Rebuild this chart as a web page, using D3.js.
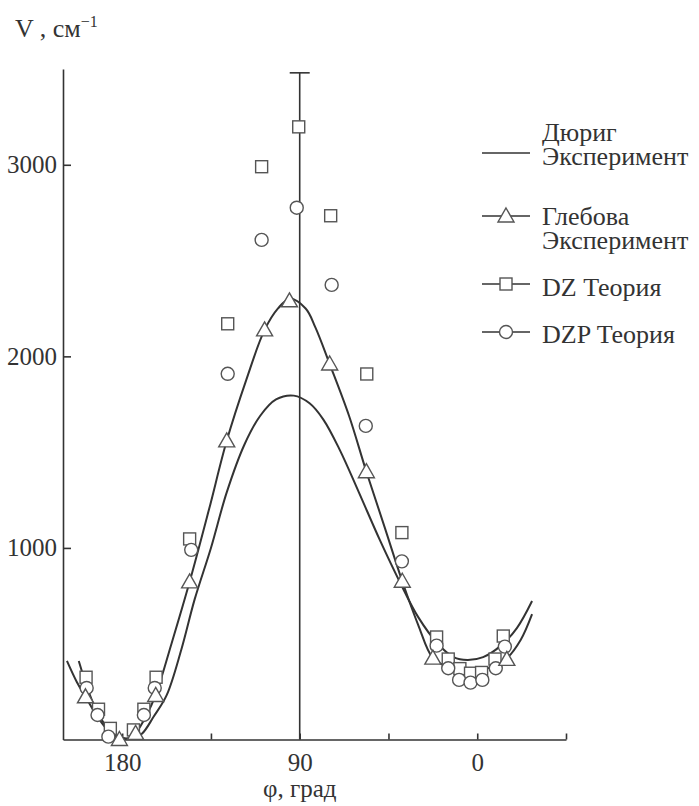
<!DOCTYPE html>
<html>
<head>
<meta charset="utf-8">
<script src="https://cdn.jsdelivr.net/npm/d3@7"></script>
<style>
  body { margin: 0; background: #fff; }
</style>
</head>
<body>
<div id="chart"></div>
<script>
// angle phi (deg) and V (cm^-1)
var durigDeg = [202, 197, 192, 186, 180, 175, 170, 164, 157.5, 150, 143.3, 135, 127, 118, 110, 102, 93, 85, 78, 69.7, 60, 49.4, 39, 30, 20, 12, 5, -3, -12, -20, -27.8];
var durigV   = [410, 250, 130, 45, 10, 5, 30, 120, 230, 470, 730, 1000, 1290, 1540, 1690, 1775, 1795, 1755, 1670, 1512, 1290, 1042, 817, 640, 500, 430, 415, 430, 490, 580, 723];

var glebCurveDeg = [208, 203, 198.6, 192, 186, 181, 176, 173, 168, 163, 155, 145.8, 136, 127, 117, 107.8, 101, 95.2, 87, 82, 74.8, 65, 56.2, 47, 38, 30, 22.5, 15, 5, -5, -15, -22, -27.8];
var glebCurveV   = [410, 300, 223, 110, 35, 5, 10, 35, 120, 233, 500, 823, 1200, 1559, 1880, 2138, 2250, 2300, 2250, 2150, 1960, 1690, 1398, 1110, 826, 600, 425, 380, 360, 370, 425, 520, 655];

var glebDeg = [198.6, 181.4, 173.2, 163, 145.8, 127, 107.8, 95.2, 74.8, 56.2, 38, 22.5, -15];
var glebV   = [223, 0, 32, 230, 823, 1559, 2138, 2290, 1960, 1398, 826, 425, 418];

var dzDeg = [198.3, 192, 186, 174.3, 169, 162.8, 145.8, 126.5, 109.3, 90.5, 74.3, 56, 38.2, 20.6, 14.7, 8.8, 3.4, -2.2, -9, -13.2];
var dzV   = [325, 158, 58, 50, 158, 325, 1047, 2170, 2990, 3198, 2734, 1908, 1080, 535, 420, 370, 346, 350, 420, 540];

var dzpDeg = [198, 192.5, 187, 169, 163.5, 145, 126.5, 109.3, 91.5, 73.8, 56.5, 38.2, 20.6, 14.7, 9.2, 3.4, -2.6, -9.4, -14];
var dzpV   = [269, 128, 15, 128, 269, 990, 1909, 2608, 2776, 2373, 1637, 930, 490, 372, 311, 297, 311, 372, 485];

var xTicks = [180, 135, 90, 45, 0, -45];
var xLabels = [180, 90, 0];
var yTicks = [1000, 2000, 3000];

var legendNames = [["Дюриг", "Эксперимент"], ["Глебова", "Эксперимент"], ["DZ Теория"], ["DZP Теория"]];
var legendKinds = ["none", "triangle", "square", "circle"];

var width = 699, height = 806;
var ink = "#333";
var serif = "'Liberation Serif'";

var svg = d3.select("#chart").append("svg")
    .attr("width", width)
    .attr("height", height);

var x = d3.scaleLinear().domain([210, -45]).range([63, 566]);
var y = d3.scaleLinear().domain([0, 3500]).range([739.5, 69]);

// axes, ticks point inward
var xAxis = d3.axisBottom(x)
    .tickValues(xTicks)
    .tickSizeInner(-6)
    .tickSizeOuter(0)
    .tickPadding(14)
    .tickFormat(function(d) { return xLabels.indexOf(d) >= 0 ? d : ""; });

var gx = svg.append("g")
    .attr("transform", "translate(0," + y(0) + ")")
    .call(xAxis);

var yAxis = d3.axisLeft(y)
    .tickValues(yTicks)
    .tickSizeInner(-8)
    .tickSizeOuter(0)
    .tickPadding(6)
    .tickFormat(d3.format("d"));

var gy = svg.append("g")
    .attr("transform", "translate(" + x(210) + ",0)")
    .call(yAxis);

[gx, gy].forEach(function(g) {
    g.attr("font-family", null).attr("font-size", null);
    g.select(".domain").attr("stroke", ink).attr("stroke-width", 1.6);
    g.selectAll(".tick line").attr("stroke", ink).attr("stroke-width", 1.6);
    g.selectAll(".tick text")
        .style("font-family", serif)
        .style("font-size", "25px")
        .attr("fill", ink);
});

// vertical line at 90 with a cap
svg.append("line")
    .attr("x1", x(90)).attr("x2", x(90))
    .attr("y1", y(0)).attr("y2", y(3480))
    .attr("stroke", ink).attr("stroke-width", 1.6);
svg.append("line")
    .attr("x1", x(90) - 10).attr("x2", x(90) + 10)
    .attr("y1", y(3480)).attr("y2", y(3480))
    .attr("stroke", ink).attr("stroke-width", 1.6);

// curves
var line = d3.line()
    .x(function(d) { return x(d[0]); })
    .y(function(d) { return y(d[1]); })
    .curve(d3.curveCatmullRom.alpha(0.5));

var durig = d3.zip(durigDeg, durigV);
var glebCurve = d3.zip(glebCurveDeg, glebCurveV);

svg.append("path").datum(durig)
    .attr("d", line)
    .attr("fill", "none").attr("stroke", ink).attr("stroke-width", 2);
svg.append("path").datum(glebCurve)
    .attr("d", line)
    .attr("fill", "none").attr("stroke", ink).attr("stroke-width", 2);

// markers
var mStroke = "#555";
function drawMarker(g, kind, cx, cy) {
    if (kind == "square") {
        g.append("rect")
            .attr("x", cx - 6).attr("y", cy - 6)
            .attr("width", 12).attr("height", 12)
            .attr("fill", "#fff").attr("stroke", mStroke).attr("stroke-width", 1.4);
    } else if (kind == "circle") {
        g.append("circle")
            .attr("cx", cx).attr("cy", cy).attr("r", 6.5)
            .attr("fill", "#fff").attr("stroke", mStroke).attr("stroke-width", 1.4);
    } else if (kind == "triangle") {
        g.append("path")
            .attr("d", "M" + cx + "," + (cy - 8) + "L" + (cx + 8) + "," + (cy + 6) + "L" + (cx - 8) + "," + (cy + 6) + "Z")
            .attr("fill", "#fff").attr("stroke", mStroke).attr("stroke-width", 1.4);
    }
}

var marks = svg.append("g");
d3.zip(dzDeg, dzV).forEach(function(d) { drawMarker(marks, "square", x(d[0]), y(d[1])); });
d3.zip(dzpDeg, dzpV).forEach(function(d) { drawMarker(marks, "circle", x(d[0]), y(d[1])); });
d3.zip(glebDeg, glebV).forEach(function(d) { drawMarker(marks, "triangle", x(d[0]), y(d[1])); });

// axis titles
var yTitle = svg.append("text")
    .attr("x", 15).attr("y", 37)
    .style("font-family", serif)
    .style("font-size", "26px")
    .attr("fill", ink);
yTitle.append("tspan").text("V , см");
yTitle.append("tspan").attr("dy", -10).style("font-size", "16px").text("−1");

svg.append("text")
    .attr("x", x(90)).attr("y", 797)
    .attr("text-anchor", "middle")
    .style("font-family", serif)
    .style("font-size", "25px")
    .attr("fill", ink)
    .text("φ, град");

// legend: sample line y, and baseline of the first text line
var legY = [153, 216, 284, 332];
var legTextY = [141, 225, 296, 343];
var legend = svg.append("g");
legendNames.forEach(function(names, i) {
    var ly = legY[i];
    legend.append("line")
        .attr("x1", 482).attr("x2", 530)
        .attr("y1", ly).attr("y2", ly)
        .attr("stroke", ink).attr("stroke-width", 1.6);
    drawMarker(legend, legendKinds[i], 506, ly);
    names.forEach(function(name, j) {
        legend.append("text")
            .attr("x", 542)
            .attr("y", legTextY[i] + j * 24)
            .style("font-family", serif)
            .style("font-size", "26px")
            .attr("fill", ink)
            .text(name);
    });
});
</script>
</body>
</html>
